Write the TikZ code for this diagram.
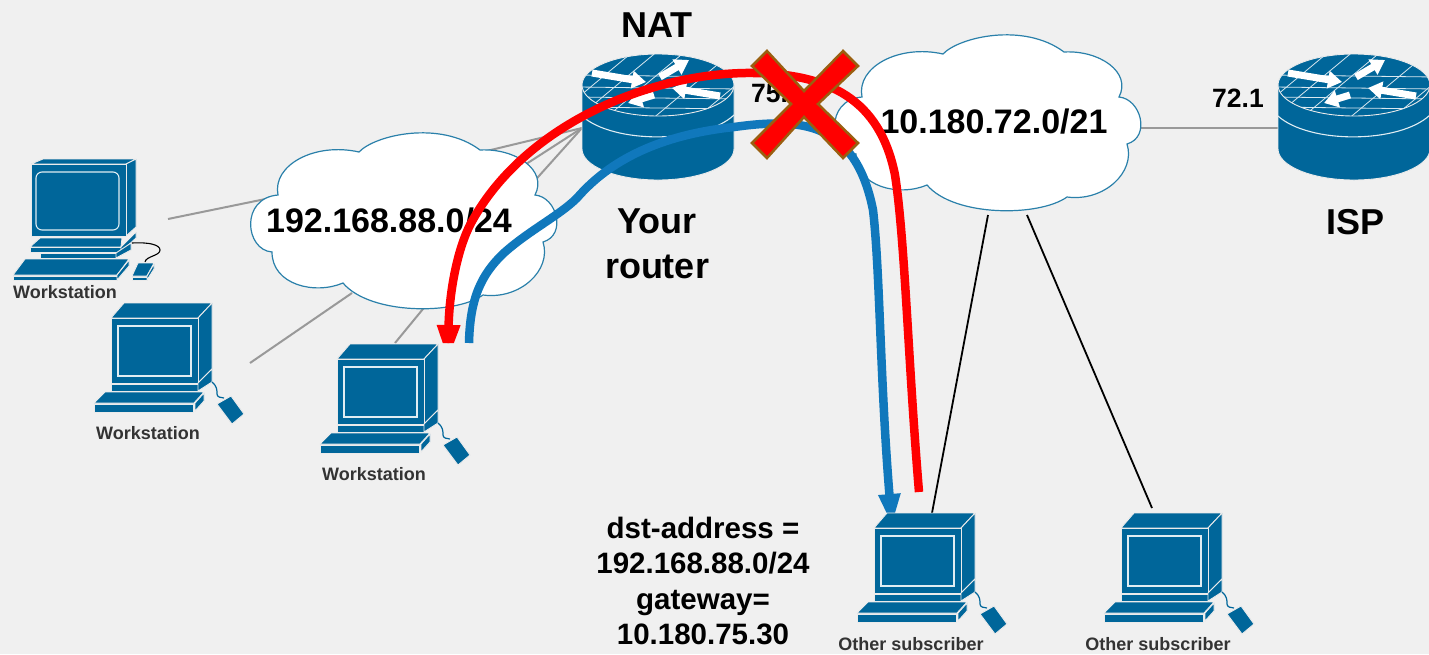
\documentclass[tikz,border=0pt]{standalone}
\usepackage{fontspec}
\setmainfont{Liberation Sans}
\usetikzlibrary{arrows.meta}
\definecolor{pagegrey}{HTML}{F0F0F0}
\definecolor{ciscoblue}{HTML}{00669A}
\definecolor{cloudline}{HTML}{2A80AA}
\definecolor{pathblue}{HTML}{1078BC}
\definecolor{crossedge}{HTML}{9A5F10}
\definecolor{wiregrey}{HTML}{999999}
\tikzset{
  part/.style={fill=ciscoblue,draw=white!92!black,line width=0.9pt,line join=round},
  inner line/.style={draw=white!88!ciscoblue,line width=1.1pt},
  wire/.style={draw=wiregrey,line width=2pt},
  blackwire/.style={draw=black,line width=1.8pt},
  route/.style={line width=8.5pt},
  big text/.style={font=\fontsize{34}{45}\selectfont\bfseries,inner sep=0pt,align=center},
  name text/.style={font=\fontsize{36}{45}\selectfont\bfseries,inner sep=0pt,align=center},
  addr text/.style={font=\fontsize{26.5}{30}\selectfont\bfseries,inner sep=0pt},
  note text/.style={font=\fontsize{29.5}{35.5}\selectfont\bfseries,inner sep=0pt,align=center},
  host text/.style={font=\fontsize{18}{20}\selectfont\bfseries,text=black!80,inner sep=0pt},
  router arrow/.style={draw=white,line width=7pt,-{Triangle[width=17pt,length=14pt]}},
  pics/router/.style={code={
    \path[part] (-76,0) -- (-76,64) .. controls (-76,81) and (-42,95) .. (0,95)
      .. controls (42,95) and (76,81) .. (76,64) -- (76,0) -- cycle;
    \draw[inner line] (-76,31) .. controls (-45,59) and (45,59) .. (76,30);
    \path[part] (0,0) ellipse [x radius=76,y radius=31];
    \begin{scope}
      \clip (0,0) ellipse [x radius=76,y radius=31];
      \foreach \gx in {-23,1,29,77,120}
        \draw[white!85!ciscoblue,line width=0.8pt] (\gx,-35) -- ++(-84,70);
      \foreach \gy in {-10,2,12,22}
        \draw[white!85!ciscoblue,line width=0.8pt] (-80,\gy) -- (80,\gy+2);
    \end{scope}
    \draw[router arrow] (-66,-12) -- (-12,-3);
    \draw[router arrow] (2,-8) -- (31,-25);
    \draw[router arrow] (62,11) -- (14,3);
    \draw[router arrow] (-4,10) -- (-30,18);
  }},
  pics/lancloud/.style={code={
    \path[fill=white,draw=cloudline,line width=1.2pt]
      (-134,-25) .. controls (-140,-55) and (-97,-78) .. (-53,-68)
      .. controls (-37,-85) and (28,-100) .. (68,-70)
      .. controls (103,-72) and (136,-50) .. (123,-25)
      .. controls (145,-23) and (155,15) .. (131,22)
      .. controls (140,50) and (108,80) .. (71,75)
      .. controls (43,95) and (-42,95) .. (-69,63)
      .. controls (-97,75) and (-140,65) .. (-140,32)
      .. controls (-167,30) and (-172,-22) .. (-134,-25) -- cycle;
  }},
  pics/computer/.style={code={
    \path[part] (13,-15) -- (101,-15) -- (87,0) -- (0,0) -- cycle;
    \path[part] (101,-15) -- (101,51) -- (87,65) -- (87,0) -- cycle;
    \path[part] (0,0) rectangle (87,65);
    \draw[inner line] (7,8) rectangle (80,58);
    \path[part] (0,66) rectangle (87,73);
    \path[part] (87,65) -- (101,51) -- (101,64) -- (87,73) -- cycle;
    \path[part] (-6,74) -- (93,74) -- (83,85) -- (-17,85) -- cycle;
    \path[part] (-17,86) rectangle (82,94);
    \path[part] (84,85) -- (93,75) -- (93,83) -- (84,93) -- cycle;
    \draw[ciscoblue,line width=1.2pt] (101,64) .. controls (106,68) and (106,72) .. (106,76) .. controls (106,79) and (110,80) .. (113,80);
    \path[part] (120,78) -- (133,96) -- (121,106) -- (106,86) -- cycle;
  }}
}
\begin{document}
\begin{tikzpicture}[x=1pt,y=-1pt]
\path[fill=pagegrey,use as bounding box] (0,0) rectangle (1429,654);
\coordinate (ws1port) at (168,219);
\coordinate (ws2port) at (250,363);
\coordinate (ws3port) at (395,343);
\coordinate (lan1) at (285,195);
\coordinate (lan2) at (352,293);
\coordinate (lan3) at (432,298);
\coordinate (lan4) at (470,155);
\coordinate (lan5) at (520,168);
\coordinate (lan6) at (530,186);
\coordinate (natlan) at (582,128);
\coordinate (natwan) at (734,127);
\coordinate (wanwest) at (875,127);
\coordinate (waneast) at (1135,128);
\coordinate (ispport) at (1280,128);
\coordinate (wansouth1) at (988,215);
\coordinate (wansouth2) at (1027,215);
\coordinate (sub1port) at (932,513);
\coordinate (sub2port) at (1152,508);
\coordinate (ws3blue) at (469,343);
\coordinate (ws3red) at (448,361);
\coordinate (sub1blue) at (892,526);
\coordinate (sub1red) at (919,492);

\draw[wire] (ws1port) -- (lan1);
\draw[wire] (ws2port) -- (lan2);
\draw[wire] (ws3port) -- (lan3);
\draw[wire] (natlan) -- (lan4);
\draw[wire] (natlan) -- (lan5);
\draw[wire] (natlan) -- (lan6);
\draw[wire] (natwan) -- (wanwest);
\draw[wire] (waneast) -- (ispport);
\draw[blackwire] (wansouth1) -- (sub1port);
\draw[blackwire] (wansouth2) -- (sub2port);

\pic at (412,220) {lancloud};
\pic at (996,122) {lancloud};
\pic at (658,85) {router};
\pic at (1354,85) {router};

\node[big text,anchor=base] (lanlabel) at (389,232) {192.168.88.0/24};
\node[big text,anchor=base] (wanlabel) at (994,133) {10.180.72.0/21};
\node[name text,anchor=base] (natlabel) at (657,37) {NAT};
\node[name text] (yourlabel) at (657,244) {Your\\router};
\node[name text,anchor=base] (isplabel) at (1355,234) {ISP};
\node[addr text,anchor=base west] (natip) at (751,102) {75.};
\node[addr text,anchor=base west] (ispip) at (1212,107) {72.1};
\node[note text] (routenote) at (703,581) {dst-address =\\192.168.88.0/24\\gateway=\\10.180.75.30};

\draw[route,pathblue,-{Triangle[width=20pt,length=32pt]}] (ws3blue)
  .. controls (470,300) and (480,275) .. (505,252)
  .. controls (530,230) and (560,215) .. (577,198)
  .. controls (610,160) and (660,135) .. (734,127)
  .. controls (800,118) and (855,120) .. (873,210)
  .. controls (880,270) and (880,380) .. (sub1blue);
\begin{scope}
  \clip (0,0) -- (1429,0) -- (1429,654) -- (600,654) -- (600,343) -- (0,343) -- cycle;
  \draw[route,red,-{Triangle[width=21pt,length=36pt]}] (sub1red)
    .. controls (908,360) and (905,240) .. (895,175)
    .. controls (880,100) and (830,72) .. (745,73)
    .. controls (640,75) and (520,130) .. (470,225)
    .. controls (455,255) and (449,300) .. (ws3red);
\end{scope}

% first workstation is an older model
\path[part] (43,159) -- (136,159) -- (126,164) -- (31,164) -- cycle;
\path[part] (136,159) -- (136,227) -- (126,236) -- (126,164) -- cycle;
\path[part] (31,164) rectangle (126,236);
\draw[inner line,rounded corners=6pt] (36,172) rectangle (119,230);
\path[part] (40,238) -- (122,238) -- (121,247) -- (30,247) -- cycle;
\path[part] (30,247) rectangle (121,252);
\path[part] (121,247) -- (136,232) -- (136,238) -- (121,252) -- cycle;
\path[part] (40,253) rectangle (116,258);
\path[part] (116,253) -- (131,243) -- (131,250) -- (116,258) -- cycle;
\path[part] (25,259) -- (129,259) -- (117,275) -- (13,275) -- cycle;
\path[part] (13,276) rectangle (117,280);
\path[part] (117,275) -- (129,260) -- (129,266) -- (117,280) -- cycle;
\draw[black,line width=1.1pt] (132,243) .. controls (150,242) and (160,245) .. (160,250) .. controls (160,256) and (146,256) .. (145,262);
\path[part] (138,263) -- (154,263) -- (147,276) -- (132,276) -- cycle;
\path[part] (132,277) rectangle (147,280);
\path[part] (147,276) -- (154,264) -- (154,269) -- (147,280) -- cycle;

\pic at (111,318) {computer};
\pic at (337,359) {computer};
\pic at (874,528) {computer};
\pic at (1121,528) {computer};

\node[host text,anchor=base] (ws1label) at (65,298) {Workstation};
\node[host text,anchor=base] (ws2label) at (148,439) {Workstation};
\node[host text,anchor=base] (ws3label) at (374,480) {Workstation};
\node[host text,anchor=base] (sub1label) at (911,650) {Other subscriber};
\node[host text,anchor=base] (sub2label) at (1158,650) {Other subscriber};

\path[fill=red,draw=crossedge,line width=2.5pt,line join=miter]
  (767,51) -- (804,91) -- (843,51) -- (858,66) -- (818,104) -- (858,143)
  -- (843,158) -- (804,117) -- (767,158) -- (752,143) -- (791,104) -- (752,66) -- cycle;
\end{tikzpicture}
\end{document}
